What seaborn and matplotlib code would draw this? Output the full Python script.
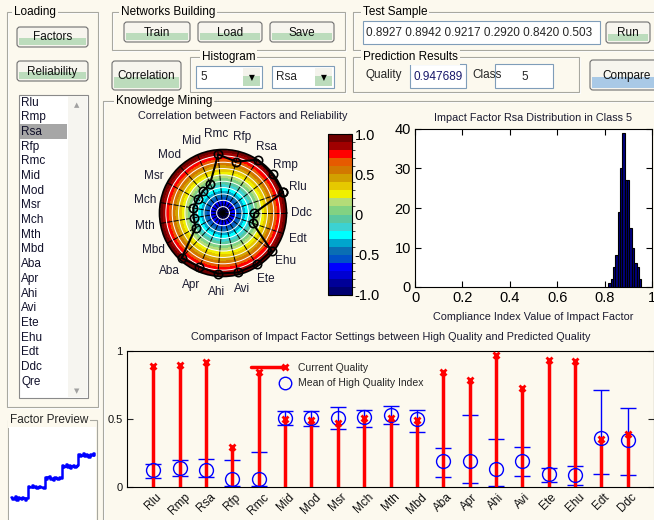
import numpy as np
import matplotlib
matplotlib.use("Agg")
import matplotlib.pyplot as plt
import seaborn as sns
import pandas as pd
from matplotlib.patches import Rectangle, FancyBboxPatch
from matplotlib.colors import ListedColormap, BoundaryNorm
from matplotlib.cm import ScalarMappable
from matplotlib.legend_handler import HandlerLine2D
from matplotlib.lines import Line2D

# ---------------- data ----------------
factors = ["Rlu", "Rmp", "Rsa", "Rfp", "Rmc", "Mid", "Mod", "Msr", "Mch", "Mth",
           "Mbd", "Aba", "Apr", "Ahi", "Avi", "Ete", "Ehu", "Edt", "Ddc"]
list_items = factors + ["Qre"]
selected_factor = "Rsa"
selected_class = 5
quality = 0.947689

correlation = [1.00, 0.98, 1.00, 0.67, 0.85, 0.01, -0.065, -0.09, -0.05, -0.065,
               -0.02, 0.92, 0.855, 0.915, 0.93, 0.93, 0.94, -0.01, -0.01]

current_quality = [0.8927, 0.8942, 0.9217, 0.2920, 0.8420, 0.503, 0.495, 0.469, 0.510, 0.505,
                   0.495, 0.845, 0.787, 0.974, 0.725, 0.935, 0.930, 0.354, 0.388]
hq_mean = [0.127, 0.139, 0.127, 0.057, 0.057, 0.507, 0.505, 0.507, 0.517, 0.529,
           0.498, 0.189, 0.194, 0.132, 0.189, 0.098, 0.091, 0.359, 0.349]
hq_low = [0.067, 0.079, 0.074, 0.005, 0.007, 0.457, 0.447, 0.423, 0.440, 0.464,
          0.407, 0.074, 0.026, 0.007, 0.084, 0.036, 0.017, 0.098, 0.091]
hq_high = [0.170, 0.196, 0.203, 0.196, 0.260, 0.560, 0.560, 0.586, 0.569, 0.593,
           0.569, 0.285, 0.529, 0.356, 0.292, 0.139, 0.155, 0.715, 0.579]

hist_edges = [0.815, 0.825, 0.835, 0.845, 0.855, 0.865, 0.875, 0.885,
              0.895, 0.905, 0.915, 0.925, 0.935, 0.945, 0.955]
hist_counts = [1, 2, 5, 8, 19, 30, 39, 27, 27, 15, 10, 6, 5, 2]
hist_xticks = [0, 0.2, 0.4, 0.6, 0.8, 1.0]
hist_xticklabels = ["0", "0.2", "0.4", "0.6", "0.8", "1"]
hist_yticks = [0, 10, 20, 30, 40]

preview_values = [0.25, 0.23, 0.24, 0.26, 0.22, 0.25, 0.24, 0.23, 0.25, 0.24, 0.22, 0.24,
                  0.37, 0.35, 0.36, 0.38, 0.35, 0.37, 0.34, 0.36, 0.37, 0.35, 0.36, 0.34,
                  0.46, 0.44, 0.46, 0.47, 0.44, 0.45, 0.43, 0.46, 0.45, 0.44, 0.46, 0.45,
                  0.59, 0.57, 0.58, 0.60, 0.57, 0.59, 0.56, 0.58, 0.59, 0.57, 0.58, 0.59,
                  0.71, 0.69, 0.70, 0.72, 0.69, 0.71, 0.70, 0.68, 0.71, 0.70, 0.72, 0.70]

cbar_levels = [-1.0, -0.9, -0.8, -0.7, -0.6, -0.5, -0.4, -0.3, -0.2, -0.1, 0.0,
               0.1, 0.2, 0.3, 0.4, 0.5, 0.6, 0.7, 0.8, 0.9, 1.0]
cbar_ticks = [-1.0, -0.5, 0.0, 0.5, 1.0]
cbar_ticklabels = ["-1.0", "-0.5", "0", "0.5", "1.0"]
radar_rings = [-0.8, -0.6, -0.4, -0.2, 0.0, 0.2, 0.4, 0.6, 0.8]

# ---------------- style ----------------
band_colors = ["#000070", "#000098", "#0000D2", "#0000FF", "#0050C8", "#0A6EB4",
               "#00A5CD", "#00FFFF", "#3CD2D2", "#5AC8A0", "#82D282", "#B4DC78",
               "#F0F000", "#E6C800", "#D2A000", "#D27800", "#E65A00", "#FF0000",
               "#A00000", "#6E0000"]
BG = "#FCF9EE"
EDGE = "#A8A8A0"
W, H = 654, 520

sns.set_style("ticks")
plt.rcParams["font.family"] = ["Liberation Sans", "DejaVu Sans"]
plt.rcParams["axes.unicode_minus"] = False

fig = plt.figure(figsize=(W / 100, H / 100), dpi=100, facecolor=BG)
gui = fig.add_axes([0, 0, 1, 1])
gui.set_xlim(0, W)
gui.set_ylim(H, 0)
gui.axis("off")
gui.set_zorder(0)


def fig_axes(x0, y0, x1, y1, **kw):
    a = fig.add_axes([x0 / W, 1 - y1 / H, (x1 - x0) / W, (y1 - y0) / H], **kw)
    a.set_zorder(1)
    return a


def panel(x0, y0, x1, y1, title, tx):
    gui.add_patch(Rectangle((x0 + 1, y0 + 1), x1 - x0, y1 - y0, fill=False, ec="white", lw=0.8))
    gui.add_patch(Rectangle((x0, y0), x1 - x0, y1 - y0, fill=False, ec=EDGE, lw=0.8))
    gui.text(tx, y0, title, ha="left", va="center", fontsize=8.5, color="black",
             bbox=dict(boxstyle="square,pad=0.15", fc=BG, ec="none"))


def button(x0, y0, x1, y1, label, band="#BCDCBC"):
    h = y1 - y0
    gui.add_patch(FancyBboxPatch((x0, y0), x1 - x0, h, boxstyle="round,pad=0,rounding_size=3",
                                 fc="#F7F5EE", ec="#6F6F6F", lw=0.8))
    gui.add_patch(Rectangle((x0 + 2, y0 + h * 0.55), x1 - x0 - 4, h * 0.45 - 2, fc=band, ec="none"))
    gui.text((x0 + x1) / 2, (y0 + y1) / 2 + 0.5, label, ha="center", va="center", fontsize=8.5,
             color="#101010")


def textbox(x0, y0, x1, y1):
    gui.add_patch(Rectangle((x0, y0), x1 - x0, y1 - y0, fc="white", ec="#7F9DB9", lw=0.8))


def combo(x0, y0, x1, y1, text):
    textbox(x0, y0, x1, y1)
    gui.add_patch(Rectangle((x1 - 19, y0 + 2), 17, y1 - y0 - 4, fc="#F4F3EC", ec="none"))
    gui.add_patch(Rectangle((x1 - 19, y0 + 2 + (y1 - y0 - 4) * 0.45), 17, (y1 - y0 - 4) * 0.55,
                            fc="#BCDCBC", ec="none"))
    gui.text(x1 - 10.5, (y0 + y1) / 2 + 1, "\u25BC", ha="center", va="center", fontsize=5.5,
             color="black", family=["DejaVu Sans"])
    gui.text(x0 + 4, (y0 + y1) / 2 + 0.5, text, ha="left", va="center", fontsize=8.5)


# ---- Loading panel ----
panel(7, 12, 98, 407, "Loading", 14)
button(17, 27, 88, 47, "Factors")
button(17, 61, 88, 81, "Reliability")
gui.add_patch(Rectangle((19, 95), 69, 303, fc="white", ec="#8A8A8A", lw=0.8))
gui.add_patch(Rectangle((68, 96), 19, 301, fc="#F6F5F0", ec="none"))
for i, name in enumerate(list_items):
    yy = 102.5 + i * 14.7
    if name == selected_factor:
        gui.add_patch(Rectangle((20, yy - 7.5), 47, 15, fc="#A6A6A6", ec="none"))
    gui.text(21, yy, name, ha="left", va="center", fontsize=8.5, color="#10102A")
gui.text(77, 105, "\u25B2", ha="center", va="center", fontsize=5, color="#A0A0A0", family=["DejaVu Sans"])
gui.text(77, 391, "\u25BC", ha="center", va="center", fontsize=5, color="#A0A0A0", family=["DejaVu Sans"])

# ---- Factor preview ----
gui.add_patch(Rectangle((8, 420), 89, 110, fill=False, ec=EDGE, lw=0.8))
gui.text(10, 420, "Factor Preview", ha="left", va="center", fontsize=8.5,
         bbox=dict(boxstyle="square,pad=0.15", fc=BG, ec="none"))

# ---- Networks building ----
panel(112, 12, 345, 50, "Networks Building", 121)
button(124, 22, 190, 42, "Train")
button(198, 22, 262, 42, "Load")
button(270, 22, 334, 42, "Save")

# ---- Test sample ----
panel(353, 12, 680, 50, "Test Sample", 363)
textbox(363, 21, 600, 44)
sample_str = " ".join(f"{v:.4f}" for v in current_quality[:6])
gui.text(366, 33, sample_str[:40], ha="left", va="center", fontsize=8.5)
button(606, 22, 650, 43, "Run")

# ---- second row ----
button(112, 61, 181, 90, "Correlation")
panel(190, 57, 345, 92, "Histogram", 202)
combo(196, 66, 262, 88, str(selected_class))
combo(272, 66, 334, 88, selected_factor)
panel(353, 57, 579, 92, "Prediction Results", 363)
gui.text(366, 75, "Quality", ha="left", va="center", fontsize=8.5)
textbox(410, 64, 466, 88)
gui.text(438, 77, f"{quality:.6f}", ha="center", va="center", fontsize=8.5, color="#18186A")
gui.text(472, 75, "Class", ha="left", va="center", fontsize=8.5)
textbox(495, 64, 553, 88)
gui.text(525, 77, str(selected_class), ha="center", va="center", fontsize=8.5)
button(590, 60, 664, 90, "Compare", band="#A9C9E6")

# ---- Knowledge mining ----
panel(103, 101, 700, 600, "Knowledge Mining", 116)

# ---------------- radar (correlation) ----------------
cmap = ListedColormap(band_colors)
norm = BoundaryNorm(cbar_levels, cmap.N)
axr = fig_axes(159.5, 149.5, 286.5, 276.5, projection="polar")
axr.set_facecolor("none")
theta_bg = np.linspace(0, 2 * np.pi, 361)
T, R = np.meshgrid(theta_bg, np.array(cbar_levels))
Rc = (R[:-1, :-1] + R[1:, :-1]) / 2
axr.pcolormesh(T, R, Rc, cmap=cmap, norm=norm, shading="flat", zorder=1)
axr.set_ylim(-1, 1)
angles = np.arange(1, len(factors) + 1) * 2 * np.pi / len(factors)
ang_c = np.append(angles, angles[0])
val_c = np.append(correlation, correlation[0])
axr.plot(ang_c, val_c, color="black", lw=1.5, marker="o", ms=6, mfc="none", mec="black",
         mew=1.2, zorder=4, clip_on=False)
axr.set_axisbelow(False)
axr.set_xticks(angles)
axr.set_xticklabels(factors, fontsize=8.5, color="#1A1A30")
axr.set_yticks(radar_rings)
axr.set_yticklabels([])
axr.xaxis.grid(True, color="black", lw=0.7)
axr.yaxis.grid(True, color="white", lw=0.7)
axr.tick_params(axis="x", pad=0.5)
axr.spines["polar"].set_color("black")
axr.spines["polar"].set_linewidth(1.2)
fig.text(243 / W, 1 - 116 / H, "Correlation between Factors and Reliability", ha="center",
         va="center", fontsize=7.8, color="#1A1A30")

cax = fig_axes(328, 134, 352, 295)
cb = fig.colorbar(ScalarMappable(norm=norm, cmap=cmap), cax=cax, ticks=cbar_ticks)
cb.ax.set_yticklabels(cbar_ticklabels)
cb.ax.tick_params(direction="in", length=3, left=True, right=True, labelsize=10.5, pad=2,
                  colors="black")
cb.outline.set_linewidth(0.8)
cb.outline.set_edgecolor("black")

# ---------------- histogram ----------------
axh = fig_axes(415, 129, 652, 287)
axh.set_facecolor("white")
hist_df = pd.DataFrame({
    "value": [(a + b) / 2 for a, b in zip(hist_edges[:-1], hist_edges[1:])],
    "count": hist_counts,
})
sns.histplot(data=hist_df, x="value", weights="count", bins=hist_edges, ax=axh,
             color="#000080", edgecolor="black", linewidth=0.8, alpha=1)
axh.set_xlim(0, 1)
axh.set_ylim(0, 40)
axh.set_xticks(hist_xticks)
axh.set_xticklabels(hist_xticklabels)
axh.set_yticks(hist_yticks)
axh.tick_params(direction="in", length=4, top=True, right=True, labelsize=10.5, pad=3,
                colors="black")
for s in axh.spines.values():
    s.set_visible(True)
    s.set_color("black")
    s.set_linewidth(0.8)
axh.set_ylabel("")
axh.set_title(f"Impact Factor {selected_factor} Distribution in Class {selected_class}",
              fontsize=7.8, pad=6, color="#1A1A30")
axh.set_xlabel("Compliance Index Value of Impact Factor", fontsize=7.8, labelpad=5,
               color="#1A1A30")

# ---------------- comparison chart ----------------
axb = fig_axes(127, 351, 654, 487)
axb.set_facecolor("none")
xpos = np.arange(len(factors))
mean_arr = np.array(hq_mean)
yerr = [mean_arr - np.array(hq_low), np.array(hq_high) - mean_arr]
axb.errorbar(xpos, hq_mean, yerr=yerr, fmt="none", ecolor="blue", elinewidth=1.0,
             capsize=6, capthick=1.0, zorder=2)
axb.vlines(xpos, 0, current_quality, color="red", lw=2.5, zorder=3)
axb.plot(xpos, hq_mean, ls="none", marker="o", ms=10, mfc="none", mec="blue", mew=1.0, zorder=4)
axb.plot(xpos, current_quality, ls="none", marker="x", ms=5, mec="red", mew=2, zorder=5)
axb.set_xlim(-1, len(factors))
axb.set_ylim(0, 1)
axb.set_xticks(xpos)
axb.set_xticklabels(factors, rotation=45, ha="center", fontsize=8.5, color="#101010")
axb.set_yticks([0, 0.5, 1])
axb.set_yticklabels(["0", "0.5", "1"], fontsize=8, color="#101010")
axb.tick_params(axis="y", direction="in", length=4, left=True, right=True, pad=3)
axb.tick_params(axis="x", direction="in", length=0, pad=3)
for s in axb.spines.values():
    s.set_visible(True)
    s.set_color("black")
    s.set_linewidth(0.8)
axb.set_title("Comparison of Impact Factor Settings between High Quality and Predicted Quality",
              fontsize=7.8, pad=8, color="#1A1A30")


class EndMarkerHandler(HandlerLine2D):
    def create_artists(self, legend, orig_handle, xdescent, ydescent, width, height,
                       fontsize, trans):
        yc = (height - ydescent) / 2
        line = Line2D([-xdescent, -xdescent + width], [yc, yc])
        self.update_prop(line, orig_handle, legend)
        line.set_markevery([1])
        line.set_transform(trans)
        return [line]


h1 = Line2D([], [], color="red", lw=2.5, marker="x", ms=5, mew=2)
h2 = Line2D([], [], ls="none", marker="o", ms=9, mfc="none", mec="blue", mew=1.0)
axb.legend([h1, h2], ["Current Quality", "Mean of High Quality Index"],
           handler_map={Line2D: EndMarkerHandler()}, loc="upper left",
           bbox_to_anchor=(0.235, 0.915), frameon=False, fontsize=7.5, handlelength=3.3,
           handletextpad=1.2, labelspacing=0.55, borderpad=0, borderaxespad=0)

# ---------------- factor preview ----------------
axp = fig_axes(9, 427, 96, 520)
axp.set_facecolor("white")
prev_df = pd.DataFrame({"t": np.arange(len(preview_values)), "v": preview_values})
sns.lineplot(data=prev_df, x="t", y="v", ax=axp, color="blue", lw=1.8,
             drawstyle="steps-post")
axp.set_xlim(-1.2, len(preview_values) + 0.4)
axp.set_ylim(0, 1)
axp.set_xticks([])
axp.set_yticks([])
axp.set_xlabel("")
axp.set_ylabel("")
for s in axp.spines.values():
    s.set_visible(False)

fig.savefig("out.png", dpi=100, facecolor=BG)
